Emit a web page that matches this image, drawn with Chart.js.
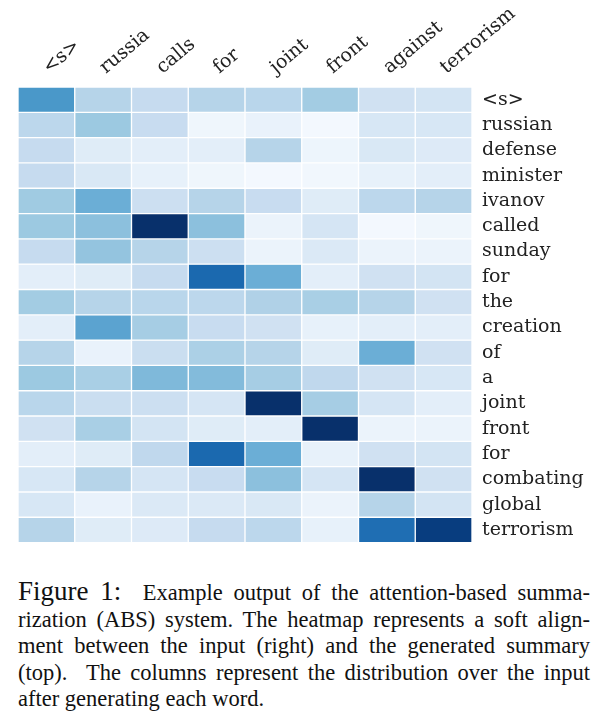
<!DOCTYPE html>
<html>
<head>
<meta charset="utf-8">
<script src="https://cdn.jsdelivr.net/npm/chart.js@4.4.0/dist/chart.umd.min.js"></script>
<style>
  html, body { margin: 0; padding: 0; background: #fff; }
  #wrap { position: relative; width: 607px; height: 556px; }
  .caption {
    font-family: "Liberation Serif", "Times New Roman", Times, serif;
    font-size: 22.5px;
    line-height: 26.5px;
    color: #111;
    margin: 22px 0 0 18px;
    width: 572px;
  }
  .caption div { text-align: justify; text-align-last: justify; white-space: nowrap; }
  .caption div.last { text-align-last: left; }
  .caption .fig { font-size: 27px; }
</style>
</head>
<body>
<div id="wrap"><canvas id="heat"></canvas></div>
<div class="caption">
  <div><span class="fig">Figure 1:</span>&nbsp; Example output of the attention-based summa-</div>
  <div>rization (ABS) system. The heatmap represents a soft align-</div>
  <div>ment between the input (right) and the generated summary</div>
  <div>(top). &nbsp;The columns represent the distribution over the input</div>
  <div class="last">after generating each word.</div>
</div>
<script>
// generated summary (top)
const summary = ['<s>', 'russia', 'calls', 'for', 'joint', 'front', 'against', 'terrorism'];
// input sentence (right)
const input = ['<s>', 'russian', 'defense', 'minister', 'ivanov', 'called', 'sunday', 'for', 'the',
  'creation', 'of', 'a', 'joint', 'front', 'for', 'combating', 'global', 'terrorism'];

// attention weights, one row per input word, one value per summary word
const att_s         = [0.60, 0.30, 0.25, 0.30, 0.29, 0.36, 0.20, 0.18];
const att_russian   = [0.28, 0.38, 0.24, 0.04, 0.07, 0.02, 0.16, 0.16];
const att_defense   = [0.25, 0.12, 0.10, 0.10, 0.30, 0.05, 0.15, 0.13];
const att_minister  = [0.25, 0.15, 0.08, 0.04, 0.02, 0.03, 0.08, 0.10];
const att_ivanov    = [0.37, 0.50, 0.22, 0.30, 0.24, 0.12, 0.28, 0.30];
const att_called    = [0.38, 0.42, 1.00, 0.42, 0.06, 0.17, 0.02, 0.04];
const att_sunday    = [0.25, 0.40, 0.30, 0.22, 0.06, 0.14, 0.06, 0.06];
const att_for1      = [0.10, 0.12, 0.25, 0.78, 0.50, 0.10, 0.20, 0.18];
const att_the       = [0.36, 0.30, 0.29, 0.28, 0.32, 0.34, 0.30, 0.20];
const att_creation  = [0.10, 0.55, 0.35, 0.24, 0.20, 0.08, 0.10, 0.10];
const att_of        = [0.30, 0.07, 0.23, 0.33, 0.30, 0.12, 0.50, 0.20];
const att_a         = [0.38, 0.34, 0.45, 0.44, 0.35, 0.27, 0.20, 0.16];
const att_joint     = [0.29, 0.23, 0.22, 0.17, 1.00, 0.35, 0.17, 0.10];
const att_front     = [0.20, 0.34, 0.18, 0.12, 0.10, 1.00, 0.06, 0.06];
const att_for2      = [0.10, 0.12, 0.27, 0.78, 0.50, 0.08, 0.20, 0.18];
const att_combating = [0.16, 0.30, 0.17, 0.24, 0.42, 0.17, 1.00, 0.20];
const att_global    = [0.16, 0.07, 0.14, 0.14, 0.15, 0.06, 0.30, 0.18];
const att_terrorism = [0.30, 0.12, 0.13, 0.25, 0.28, 0.08, 0.76, 0.95];

const rows = [att_s, att_russian, att_defense, att_minister, att_ivanov, att_called, att_sunday,
  att_for1, att_the, att_creation, att_of, att_a, att_joint, att_front, att_for2,
  att_combating, att_global, att_terrorism];

// matplotlib "Blues"
const blues = ['#f7fbff', '#deebf7', '#c6dbef', '#9ecae1', '#6baed6', '#4292c6', '#2171b5', '#08519c', '#08306b'];
function hex(h) { return [1, 3, 5].map(i => parseInt(h.substr(i, 2), 16)); }
function colorFor(v) {
  v = Math.max(0, Math.min(1, v));
  const p = v * (blues.length - 1);
  const i = Math.min(Math.floor(p), blues.length - 2);
  const t = p - i;
  const a = hex(blues[i]), b = hex(blues[i + 1]);
  const c = a.map((x, k) => Math.round(x + (b[k] - x) * t));
  return 'rgb(' + c.join(',') + ')';
}

const datasets = rows.map((r, i) => ({
  label: input[i],
  data: r.map(() => 1),
  backgroundColor: r.map(colorFor),
  borderColor: '#ffffff',
  borderWidth: 1,
  borderSkipped: false,
  barPercentage: 1,
  categoryPercentage: 1,
}));

const serif = '"DejaVu Serif", serif';

new Chart(document.getElementById('heat'), {
  type: 'bar',
  data: { labels: summary, datasets: datasets },
  options: {
    responsive: true,
    maintainAspectRatio: false,
    animation: false,
    layout: { padding: { left: 18, right: 0, top: 0, bottom: 12 } },
    plugins: { legend: { display: false }, tooltip: { enabled: false } },
    scales: {
      x: {
        position: 'top',
        stacked: true,
        grid: { display: false },
        border: { display: false },
        ticks: {
          font: { family: serif, size: 19 },
          color: '#222',
          minRotation: 40,
          maxRotation: 40,
          padding: 0,
          labelOffset: 14,
        },
        afterFit: s => { s.height = 87; },
      },
      y: {
        stacked: true,
        reverse: true,
        min: 0,
        max: rows.length,
        display: false,
      },
      y2: {
        type: 'category',
        labels: input,
        position: 'right',
        offset: true,
        grid: { display: false },
        border: { display: false },
        ticks: {
          font: { family: serif, size: 19 },
          color: '#222',
          padding: 2,
          crossAlign: 'near',
          autoSkip: false,
        },
        afterFit: s => { s.width = 135; },
      },
    },
  },
});
</script>
</body>
</html>
